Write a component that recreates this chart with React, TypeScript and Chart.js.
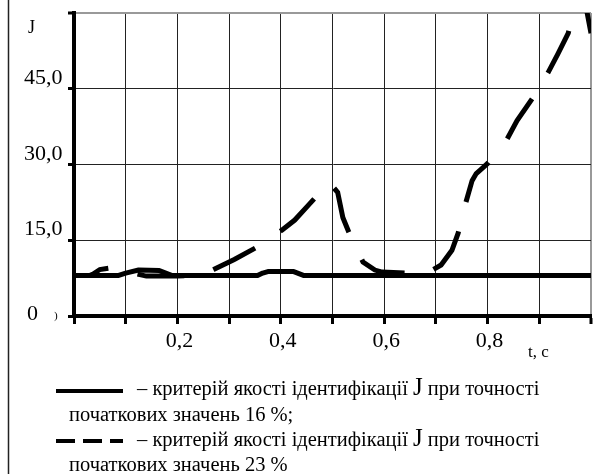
import React, { useEffect, useRef } from "react";
import { Chart, registerables } from "chart.js";

Chart.register(...registerables);

// ---- data ----
const tSolid = [0, 0.085, 0.1, 0.125, 0.165, 0.19, 0.355, 0.365, 0.375, 0.425, 0.435, 0.445, 1.0];
const jSolid = [8, 8, 8.5, 9.1, 9.0, 8.0, 8.0, 8.5, 8.8, 8.8, 8.4, 8.0, 8.0];

const tDashed = [0, 0.03, 0.037, 0.05, 0.07, 0.09, 0.1, 0.14, 0.2, 0.25, 0.27, 0.31, 0.353, 0.402, 0.427, 0.453, 0.476, 0.493, 0.51, 0.52, 0.534, 0.559, 0.582, 0.596, 0.64, 0.67, 0.693, 0.71, 0.731, 0.743, 0.758, 0.77, 0.778, 0.79, 0.8, 0.838, 0.857, 0.886, 0.917, 0.936, 0.956, 0.972, 0.988, 1.0];
const jDashed = [8, 8, 8.3, 9.2, 9.5, 9.4, 8.8, 7.9, 7.9, 8.2, 9.2, 11.2, 13.6, 17, 19, 21.9, 24.5, 26.5, 24.5, 19.5, 16, 10.7, 9.1, 8.7, 8.5, 8.1, 9.1, 10.1, 13, 16.4, 22.5, 26.8, 28.2, 29.3, 30.2, 35.1, 38.7, 43, 48.2, 51.9, 56, 62.5, 62.5, 56];

const xTickValues = [0.2, 0.4, 0.6, 0.8];
const xTickLabels = ["0,2", "0,4", "0,6", "0,8"];
const yTickValues = [0, 15, 30, 45];
const yTickLabels = ["0", "15,0", "30,0", "45,0"];
const yTitle = "J";
const xTitle = "t, c";
const legendSolidText = ["– критерій якості ідентифікації ", "J", " при точності"];
const legendSolidText2 = "початкових значень 16 %;";
const legendDashedText = ["– критерій якості ідентифікації ", "J", " при точності"];
const legendDashedText2 = "початкових значень 23 %";

const SERIF = '"Liberation Serif", "Times New Roman", serif';

const textPlugin = {
  id: "textPlugin",
  afterDraw(chart: any) {
    const ctx = chart.ctx as CanvasRenderingContext2D;
    const xs = chart.scales.x;
    const ys = chart.scales.y;
    ctx.save();
    ctx.fillStyle = "#000";
    ctx.textBaseline = "alphabetic";

    // left frame line
    ctx.strokeStyle = "#222";
    ctx.lineWidth = 1.5;
    ctx.beginPath();
    ctx.moveTo(8.5, 0);
    ctx.lineTo(8.5, 474);
    ctx.stroke();

    // y labels
    ctx.font = `22px ${SERIF}`;
    ctx.textAlign = "left";
    yTickValues.forEach((v, i) => {
      const py = ys.getPixelForValue(v);
      ctx.fillText(yTickLabels[i], v === 0 ? 27 : 24, v === 0 ? py + 4 : py - 5);
    });
    ctx.font = `18px ${SERIF}`;
    ctx.fillText(yTitle, 28, 33);
    ctx.font = `11px ${SERIF}`;
    ctx.fillText(")", 54, 319);

    // x labels
    ctx.font = `22px ${SERIF}`;
    ctx.textAlign = "center";
    xTickValues.forEach((v, i) => {
      const px = xs.getPixelForValue(v);
      ctx.fillText(xTickLabels[i], px + 2, 347);
    });
    ctx.textAlign = "left";
    ctx.font = `17px ${SERIF}`;
    ctx.fillText(xTitle, 528, 357);

    // legend
    const drawRuns = (runs: string[], x: number, y: number) => {
      let cx = x;
      runs.forEach((r, i) => {
        ctx.font = i === 1 ? `25px ${SERIF}` : `20.5px ${SERIF}`;
        ctx.fillText(r, cx, y);
        cx += ctx.measureText(r).width;
      });
    };
    ctx.strokeStyle = "#000";
    ctx.lineWidth = 4;
    ctx.lineCap = "butt";
    ctx.beginPath();
    ctx.moveTo(56, 391);
    ctx.lineTo(123, 391);
    ctx.stroke();
    drawRuns(legendSolidText, 137, 395);
    ctx.font = `20.5px ${SERIF}`;
    ctx.fillText(legendSolidText2, 69, 421);

    ctx.setLineDash([19, 8]);
    ctx.beginPath();
    ctx.moveTo(56, 441);
    ctx.lineTo(123, 441);
    ctx.stroke();
    ctx.setLineDash([]);
    drawRuns(legendDashedText, 137, 446);
    ctx.font = `20.5px ${SERIF}`;
    ctx.fillText(legendDashedText2, 69, 471);

    ctx.restore();
  },
};

export default function App() {
  const ref = useRef<HTMLCanvasElement | null>(null);
  useEffect(() => {
    document.body.style.margin = "0";
    const canvas = ref.current!;
    const chart = new Chart(canvas, {
      type: "line",
      data: {
        datasets: [
          {
            label: "16 %",
            data: tSolid.map((t, i) => ({ x: t, y: jSolid[i] })),
            borderColor: "#000",
            borderWidth: 5,
            pointRadius: 0,
            tension: 0,
            fill: false,
            borderJoinStyle: "round",
            clip: 0,
          } as any,
          {
            label: "23 %",
            data: tDashed.map((t, i) => ({ x: t, y: jDashed[i] })),
            borderColor: "#000",
            borderWidth: 5,
            borderDash: [47, 30.3],
            borderDashOffset: 10.9,
            borderCapStyle: "butt",
            pointRadius: 0,
            tension: 0,
            fill: false,
            clip: 0,
          } as any,
        ],
      },
      options: {
        responsive: false,
        animation: false,
        devicePixelRatio: 1,
        layout: { padding: { top: 13, right: 4, left: 0, bottom: 0 } },
        plugins: { legend: { display: false }, tooltip: { enabled: false }, title: { display: false } },
        scales: {
          x: {
            type: "linear",
            min: 0,
            max: 1,
            ticks: { stepSize: 0.1, display: false },
            grid: {
              color: (c: any) => (c.tick && Math.abs(c.tick.value - 1) < 1e-6 ? "#999" : "#222"),
              lineWidth: (c: any) => (c.tick && Math.abs(c.tick.value - 1) < 1e-6 ? 2 : 1),
              drawTicks: true,
              tickLength: 8,
              tickWidth: 3,
              tickColor: "#000",
            },
            border: { display: true, width: 4, color: "#000" },
            afterFit: (s: any) => {
              s.height = 158;
            },
          },
          y: {
            type: "linear",
            min: 0,
            max: 60,
            ticks: { stepSize: 15, display: false },
            grid: {
              color: (c: any) => (c.tick && c.tick.value === 60 ? "#999" : "#222"),
              lineWidth: (c: any) => (c.tick && c.tick.value === 60 ? 2 : 1),
              drawTicks: true,
              tickLength: 6,
              tickWidth: 3,
              tickColor: "#000",
            },
            border: { display: true, width: 4, color: "#000" },
            afterFit: (s: any) => {
              s.width = 74;
            },
          },
        },
      },
      plugins: [textPlugin],
    });
    return () => chart.destroy();
  }, []);
  return (
    <div style={{ position: "fixed", left: 0, top: 0, width: 595, height: 474, background: "#fff" }}>
      <canvas ref={ref} width={595} height={474} style={{ display: "block" }} />
    </div>
  );
}
